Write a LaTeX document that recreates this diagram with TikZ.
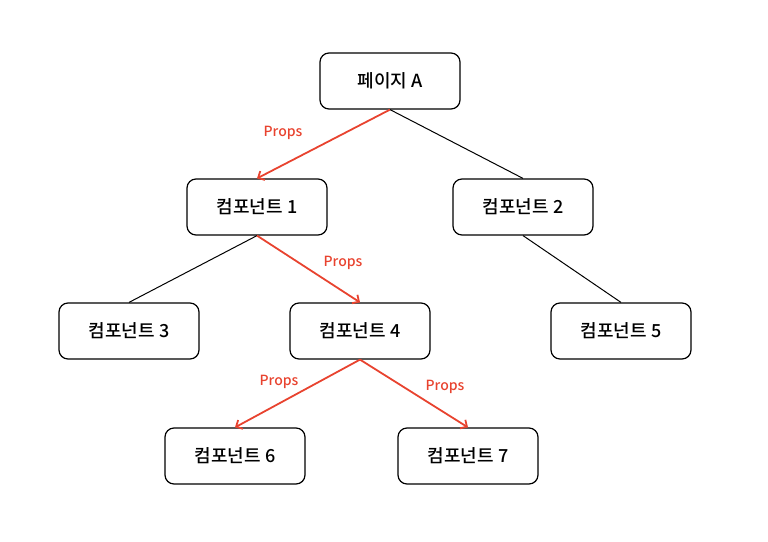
\documentclass[tikz,border=0pt]{standalone}
\usepackage{fontspec}
\setmainfont{Noto Sans CJK KR Medium}
\usetikzlibrary{arrows.meta}
\definecolor{propred}{HTML}{E8432F}

\begin{document}
\begin{tikzpicture}[
  x=1pt, y=-1pt,
  font=\fontsize{18}{20}\selectfont,
  box/.style={draw, line width=1.2pt, rounded corners=9pt, align=center, minimum width=140pt, minimum height=56pt, inner sep=0pt},
  link/.style={line width=1pt},
  props/.style={->, >={Straight Barb[length=5pt,width=10pt]}, line width=1.8pt, draw=propred},
  plabel/.style={text=propred, font=\fontsize{14}{16}\selectfont}
]
\useasboundingbox (0,0) rectangle (768,541);
\node[box] (page) at (390,81) {페이지 A};
\node[box] (comp1) at (257,207) {컴포넌트 1};
\node[box] (comp2) at (523,207) {컴포넌트 2};
\node[box] (comp3) at (129,331) {컴포넌트 3};
\node[box] (comp4) at (360,331) {컴포넌트 4};
\node[box] (comp5) at (621,331) {컴포넌트 5};
\node[box] (comp6) at (235,456) {컴포넌트 6};
\node[box] (comp7) at (468,456) {컴포넌트 7};

\draw[props] (page.south) -- (comp1.north);
\draw[link] (page.south) -- (comp2.north);
\draw[link] (comp1.south) -- (comp3.north);
\draw[props] (comp1.south) -- (comp4.north);
\draw[link] (comp2.south) -- (comp5.north);
\draw[props] (comp4.south) -- (comp6.north);
\draw[props] (comp4.south) -- (comp7.north);

\node[plabel] (lab1) at (283,133) {Props};
\node[plabel] (lab2) at (343,263) {Props};
\node[plabel] (lab3) at (279,382) {Props};
\node[plabel] (lab4) at (445,387) {Props};
\end{tikzpicture}
\end{document}
